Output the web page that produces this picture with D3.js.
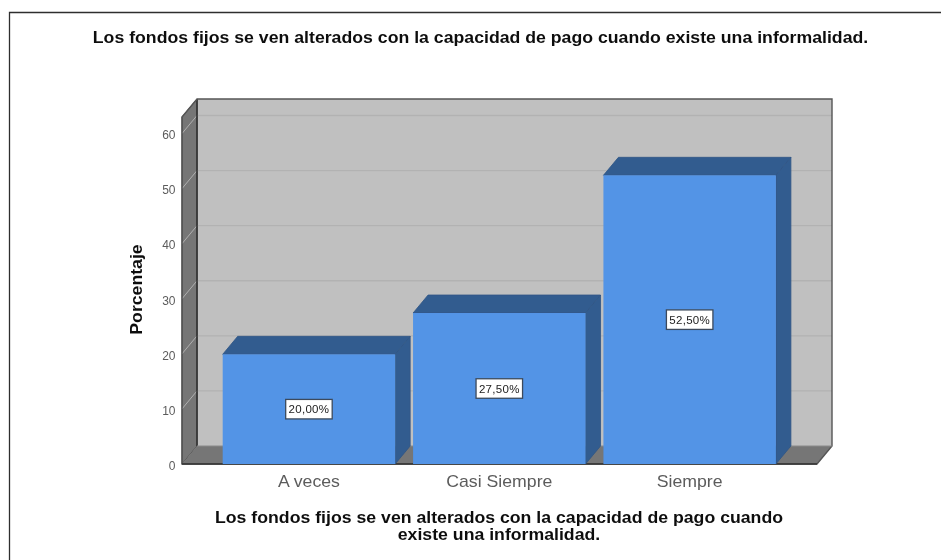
<!DOCTYPE html>
<html><head><meta charset="utf-8">
<script src="https://cdn.jsdelivr.net/npm/d3@7/dist/d3.min.js"></script>
<style>html,body{margin:0;padding:0;background:#fff}svg{display:block}text{font-family:"Liberation Sans",Arial,sans-serif}</style>
</head><body><svg id="c" width="941" height="560"></svg>
<script>
const categories = ["A veces","Casi Siempre","Siempre"];
const values = [20.0,27.5,52.5];
const valueLabels = ["20,00%","27,50%","52,50%"];
const yTicks = [0,10,20,30,40,50,60];
const chartTitle = "Los fondos fijos se ven alterados con la capacidad de pago cuando existe una informalidad.";
const xTitleLines = ["Los fondos fijos se ven alterados con la capacidad de pago cuando","existe una informalidad."];
const yTitle = "Porcentaje";

const root = d3.select("#c");
root.append("defs").append("filter").attr("id","soft").attr("x",0).attr("y",0).attr("width","100%").attr("height","100%")
  .attr("filterUnits","userSpaceOnUse")
  .append("feGaussianBlur").attr("stdDeviation",0.45);
const svg = root.append("g").attr("filter","url(#soft)");
svg.append("rect").attr("width",941).attr("height",560).attr("fill","#fff");
const L=182,R=817,B=464,dx=15,dy=18,wide=1.106;
const y = d3.scaleLinear().domain([0,60]).range([B,133.5]);
const yMax = 63;
const x = d3.scaleBand().domain(categories).range([222.7,775.9]).paddingInner(0.094).paddingOuter(0);
const poly=(pts,fill,stroke,sw)=>svg.append("polygon").attr("points",pts.map(p=>p.join(",")).join(" ")).attr("fill",fill).attr("stroke",stroke||"none").attr("stroke-width",sw||0);
const topY=y(yMax);
const wideText=(t,px,py,size,weight,fill)=>svg.append("text").attr("transform",`translate(${px},${py}) scale(${wide},1)`).attr("text-anchor","middle").attr("font-size",size).attr("font-weight",weight).attr("fill",fill).text(t);

// page frame: left and top edges only
svg.append("path").attr("d","M9.5,560V12.5H941").attr("fill","none").attr("stroke","#2e2e2e").attr("stroke-width",1.3);
// title
wideText(chartTitle,480.5,43,16,700,"#111");

// back wall
poly([[L+dx,topY-dy],[R+dx,topY-dy],[R+dx,B-dy],[L+dx,B-dy]],"#c0c0c0");
// left wall and floor
poly([[L,topY],[L+dx,topY-dy],[L+dx,B-dy],[L,B]],"#767676","#4a4a4a",1);
poly([[L,B],[L+dx,B-dy],[R+dx,B-dy],[R,B]],"#767676");
// gridlines
yTicks.filter(d=>d>0).forEach(d=>{
  svg.append("path").attr("d",`M${L+dx},${y(d)-dy}H${R+dx}`).attr("fill","none").attr("stroke","#b2b2b2").attr("stroke-width",1.4);
  svg.append("path").attr("d",`M${L},${y(d)}L${L+dx},${y(d)-dy}`).attr("fill","none").attr("stroke","#b0b0b0").attr("stroke-width",1);
});
// wall outlines
svg.append("path").attr("d",`M${L+dx},${B-dy}V${topY-dy}`).attr("stroke","#333").attr("stroke-width",1.6).attr("fill","none");
svg.append("path").attr("d",`M${L},${topY}L${L+dx},${topY-dy}H${R+dx}V${B-dy}L${R},${B}H${L}Z`).attr("stroke","#555").attr("stroke-width",1.4).attr("fill","none");
svg.append("path").attr("d",`M${L+dx},${B-dy}H${R+dx}`).attr("stroke","#8a8a8a").attr("stroke-width",1).attr("fill","none");
svg.append("path").attr("d",`M${L},${B}H${R}`).attr("stroke","#333").attr("stroke-width",1.6).attr("fill","none");

// bars
categories.forEach((c,i)=>{
  const x0=x(c),x1=x0+x.bandwidth(),t=y(values[i])+0.5;
  poly([[x0,t],[x0+dx,t-dy],[x1+dx,t-dy],[x1,t]],"#335c8f","#2f5585",0.8);
  poly([[x1,t],[x1+dx,t-dy],[x1+dx,B-dy],[x1,B]],"#335c8f","#2f5585",0.8);
  svg.append("rect").attr("x",x0).attr("y",t).attr("width",x1-x0).attr("height",B-t).attr("fill","#5294e6");
  const cx=(x0+x1)/2, cy=(t+B)/2;
  svg.append("rect").attr("x",cx-23.25).attr("y",cy-9.75).attr("width",46.5).attr("height",19.5).attr("fill","#fff").attr("stroke","#3c4a5c").attr("stroke-width",1.3);
  svg.append("text").attr("x",cx).attr("y",cy+4).attr("text-anchor","middle").attr("font-size",11.5).attr("letter-spacing",0.3).attr("fill","#222").text(valueLabels[i]);
  wideText(c,cx,487,16,400,"#5c5c5c");
});

// y tick labels
yTicks.forEach(d=>svg.append("text").attr("x",175.5).attr("y",y(d)+5.8).attr("text-anchor","end").attr("font-size",12).attr("fill","#5c5c5c").text(d));
// y title
svg.append("text").attr("transform",`translate(142,289.5) rotate(-90) scale(${wide},1)`).attr("text-anchor","middle").attr("font-size",16).attr("font-weight",700).attr("fill","#111").text(yTitle);
// x title
xTitleLines.forEach((t,i)=>wideText(t,499,522.5+i*17.5,16,700,"#111"));
</script></body></html>
